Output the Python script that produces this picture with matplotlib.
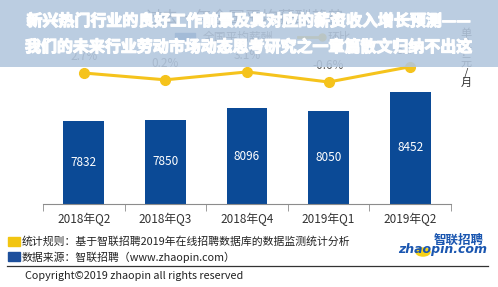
import matplotlib
matplotlib.use("Agg")
import matplotlib.pyplot as plt
import matplotlib.patheffects as pe
from matplotlib.patches import Rectangle, Circle
import numpy as np

plt.rcParams['font.family'] = ['Noto Sans CJK SC', 'DejaVu Sans']

# ── data ────────────────────────────────────────────────
quarters = ["2018年Q2", "2018年Q3", "2018年Q4", "2019年Q1", "2019年Q2"]
salary = [7832, 7850, 8096, 8050, 8452]
mom = [2.7, 0.2, 3.1, -0.6, 5.0]
mom_labels = ["2.7%", "0.2%", "3.1%", "-0.6%", "5.0%"]

headline = ["新兴热门行业的良好工作前景及其对应的薪资收入增长预测——",
            "我们的未来行业劳动市场动态思考研究之一章篇散文归纳不出这"]
chart_title = "过去一年全国平均薪酬趋势"
legend_names = ["全国平均薪酬", "环比"]
unit = "单位：元/月"
notes = ["统计规则：基于智联招聘2019年在线招聘数据库的数据监测统计分析",
         "数据来源：智联招聘（www.zhaopin.com）"]
copyright_txt = "Copyright©2019 zhaopin all rights reserved"

BLUE = "#0b4a96"
YELLOW = "#f5c31c"
GRAY = "#595959"

W, H = 498, 287


def fx(px):
    return px / W


def fy(py):
    return 1 - py / H


fig = plt.figure(figsize=(W / 100, H / 100), dpi=100)
fig.patch.set_facecolor("white")

# ── main chart ──────────────────────────────────────────
ax = fig.add_axes([fx(43), fy(204), (451 - 43) / W, 174 / H])
x = np.arange(len(quarters))
ax.bar(x, salary, width=0.5, color=BLUE, zorder=2)
ax.set_xlim(-0.5, len(quarters) - 0.5)
ax.set_ylim(6050, 9774)
for i, v in enumerate(salary):
    ax.text(i, (6050 + v) / 2, str(v), ha="center", va="center",
            color="white", fontsize=8.5)
for s in ["top", "right", "left"]:
    ax.spines[s].set_visible(False)
ax.spines["bottom"].set_color("#8c8c8c")
ax.set_yticks([])
ax.set_xticks(x)
ax.set_xticklabels(quarters, fontsize=8.5, color="#333333")
ax.tick_params(axis="x", which="major", length=0, pad=6)
ax.set_xticks(np.arange(-0.5, len(quarters)), minor=True)
ax.tick_params(axis="x", which="minor", length=5, color="#8c8c8c", direction="out")

ax2 = ax.twinx()
ax2.plot(x, mom, color=YELLOW, lw=2.2, marker="o", ms=7, zorder=3)
ax2.set_ylim(-45.3, 18.46)
ax2.axis("off")
for i, (v, t) in enumerate(zip(mom, mom_labels)):
    ax2.annotate(t, (i, v), xytext=(0, 12), textcoords="offset points",
                 ha="center", va="center", fontsize=8.5, color=GRAY)

# chart title, legend and unit (partly under the banner)
fig.text(fx(245), fy(18), chart_title, ha="center", va="center",
         fontsize=12, color="#555555")
fig.patches.append(Rectangle((fx(175), fy(41)), 20 / W, 8 / H, color="#3a6fb0",
                             transform=fig.transFigure, figure=fig))
fig.text(fx(203), fy(37), legend_names[0], ha="left", va="center",
         fontsize=8.5, color=GRAY)
fig.lines.append(plt.Line2D([fx(298), fx(322)], [fy(37), fy(37)], color=YELLOW,
                            lw=2, marker="o", markevery=[1], ms=5,
                            transform=fig.transFigure, figure=fig))
fig.text(fx(328), fy(37), legend_names[1], ha="left", va="center",
         fontsize=8.5, color=GRAY)
fig.text(fx(466), fy(58), "\n".join(unit), ha="center", va="center",
         fontsize=8, color="#333333", linespacing=0.95)

# ── banner overlay ──────────────────────────────────────
fig.patches.append(Rectangle((0, fy(67)), 1, 67 / H, facecolor="#b2c6dd",
                             alpha=0.88, transform=fig.transFigure, figure=fig,
                             zorder=5))
bold = [pe.withStroke(linewidth=0.9, foreground="white")]
fig.text(fx(249), fy(21), headline[0], ha="center", va="center", fontsize=11.5,
         color="white", weight="bold", zorder=6, path_effects=bold)
fig.text(fx(249), fy(47), headline[1], ha="center", va="center", fontsize=11.5,
         color="white", weight="bold", zorder=6, path_effects=bold)

# ── footer ──────────────────────────────────────────────
fig.patches.append(Rectangle((fx(8), fy(246)), 12 / W, 9 / H, color="#f2c511",
                             transform=fig.transFigure, figure=fig))
fig.patches.append(Rectangle((fx(8), fy(261)), 12 / W, 9 / H, color="#1d4f9c",
                             transform=fig.transFigure, figure=fig))
fig.text(fx(22), fy(241), notes[0], ha="left", va="center", fontsize=7.8,
         color="#222222")
fig.text(fx(22), fy(257), notes[1], ha="left", va="center", fontsize=7.8,
         color="#222222")
fig.lines.append(plt.Line2D([fx(7), fx(488)], [fy(266), fy(266)], color="#333333",
                            lw=0.9, transform=fig.transFigure, figure=fig))
fig.text(fx(25), fy(276), copyright_txt, ha="left", va="center", fontsize=7.8,
         color="#222222")

# logo
fig.patches.append(Circle((fx(423), fy(252)), 7 / W, color="#f7d117",
                          transform=fig.transFigure, figure=fig))
fig.text(fx(459), fy(240), "智联招聘", ha="center", va="center", fontsize=9,
         color="#1a56b0", weight="bold", style="italic")
fig.text(fx(443), fy(250), "zhaopin.com", ha="center", va="center", fontsize=9,
         color="#1a56b0", weight="bold", style="italic", family="DejaVu Sans")

fig.savefig("out.png", dpi=100)
